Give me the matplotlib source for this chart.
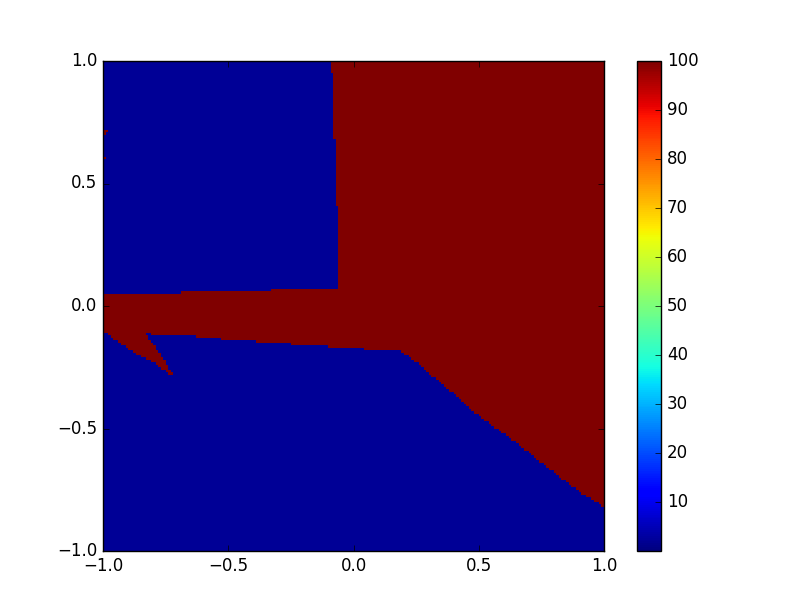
import numpy as np
import matplotlib
matplotlib.use("Agg")
import matplotlib.pyplot as plt
from matplotlib.path import Path

plt.style.use("classic")

# grid (cell edges) of the map
grid_edges_x = np.linspace(-1.0, 1.0, 201)
grid_edges_y = np.linspace(-1.0, 1.0, 201)

# values
high_value = 100.0   # dark red
low_value = 2.0      # dark blue

# outline of the high-valued (red) region (data coords)
red_x = [-0.094, -0.094, -0.081, -0.081, -0.074, -0.074, -0.063, -0.063, -0.055, -0.055,
         -0.327, -0.327, -0.685, -0.685, -1.01,
         -1.01, -0.992, -0.972, -0.920, -0.880, -0.840, -0.784, -0.741, -0.713,
         -0.733, -0.764, -0.804, -0.836,
         -0.812, -0.812, -0.625, -0.625, -0.525, -0.525, -0.385, -0.385, -0.246, -0.246,
         -0.102, -0.102, 0.038, 0.038, 0.178,
         0.238, 0.373, 0.505, 0.637, 0.772, 0.904, 0.996, 1.01,
         1.01, -0.094]
red_y = [1.01, 0.951, 0.951, 0.682, 0.682, 0.412, 0.412, 0.143, 0.143, 0.069,
         0.069, 0.058, 0.058, 0.049, 0.049,
         -0.107, -0.106, -0.127, -0.159, -0.188, -0.208, -0.241, -0.273, -0.292,
         -0.261, -0.208, -0.151, -0.110,
         -0.110, -0.122, -0.122, -0.128, -0.128, -0.142, -0.142, -0.150, -0.150, -0.159,
         -0.159, -0.170, -0.170, -0.180, -0.180,
         -0.220, -0.335, -0.453, -0.547, -0.657, -0.759, -0.816, -0.820,
         1.01, 1.01]

# isolated red cells at the left edge (cell centres)
spot_x = [-0.995, -0.985, -0.995, -0.995]
spot_y = [0.715, 0.715, 0.705, 0.605]

# colorbar ticks
cbar_ticks = [10, 20, 30, 40, 50, 60, 70, 80, 90, 100]
axis_ticks = [-1.0, -0.5, 0.0, 0.5, 1.0]

# build the value grid
xc = 0.5 * (grid_edges_x[:-1] + grid_edges_x[1:])
yc = 0.5 * (grid_edges_y[:-1] + grid_edges_y[1:])
XX, YY = np.meshgrid(xc, yc)
poly = Path(np.column_stack([red_x, red_y]))
inside = poly.contains_points(np.column_stack([XX.ravel(), YY.ravel()])).reshape(XX.shape)
Z = np.where(inside, high_value, low_value)
for sx, sy in zip(spot_x, spot_y):
    j = np.argmin(np.abs(xc - sx))
    i = np.argmin(np.abs(yc - sy))
    Z[i, j] = high_value

fig = plt.figure(figsize=(8.12, 6.12), dpi=100)
ax = fig.add_axes([103 / 812, 1 - 551 / 612, 501 / 812, 490 / 612])
mesh = ax.pcolormesh(grid_edges_x, grid_edges_y, Z, cmap="jet", vmin=0, vmax=100,
                     shading="flat")
ax.set_xlim(-1, 1)
ax.set_ylim(-1, 1)
ax.set_xticks(axis_ticks)
ax.set_yticks(axis_ticks)

cax = fig.add_axes([637 / 812, 1 - 551 / 612, 24.5 / 812, 490 / 612])
cb = fig.colorbar(mesh, cax=cax, ticks=cbar_ticks)

fig.savefig("out.png", dpi=100)
